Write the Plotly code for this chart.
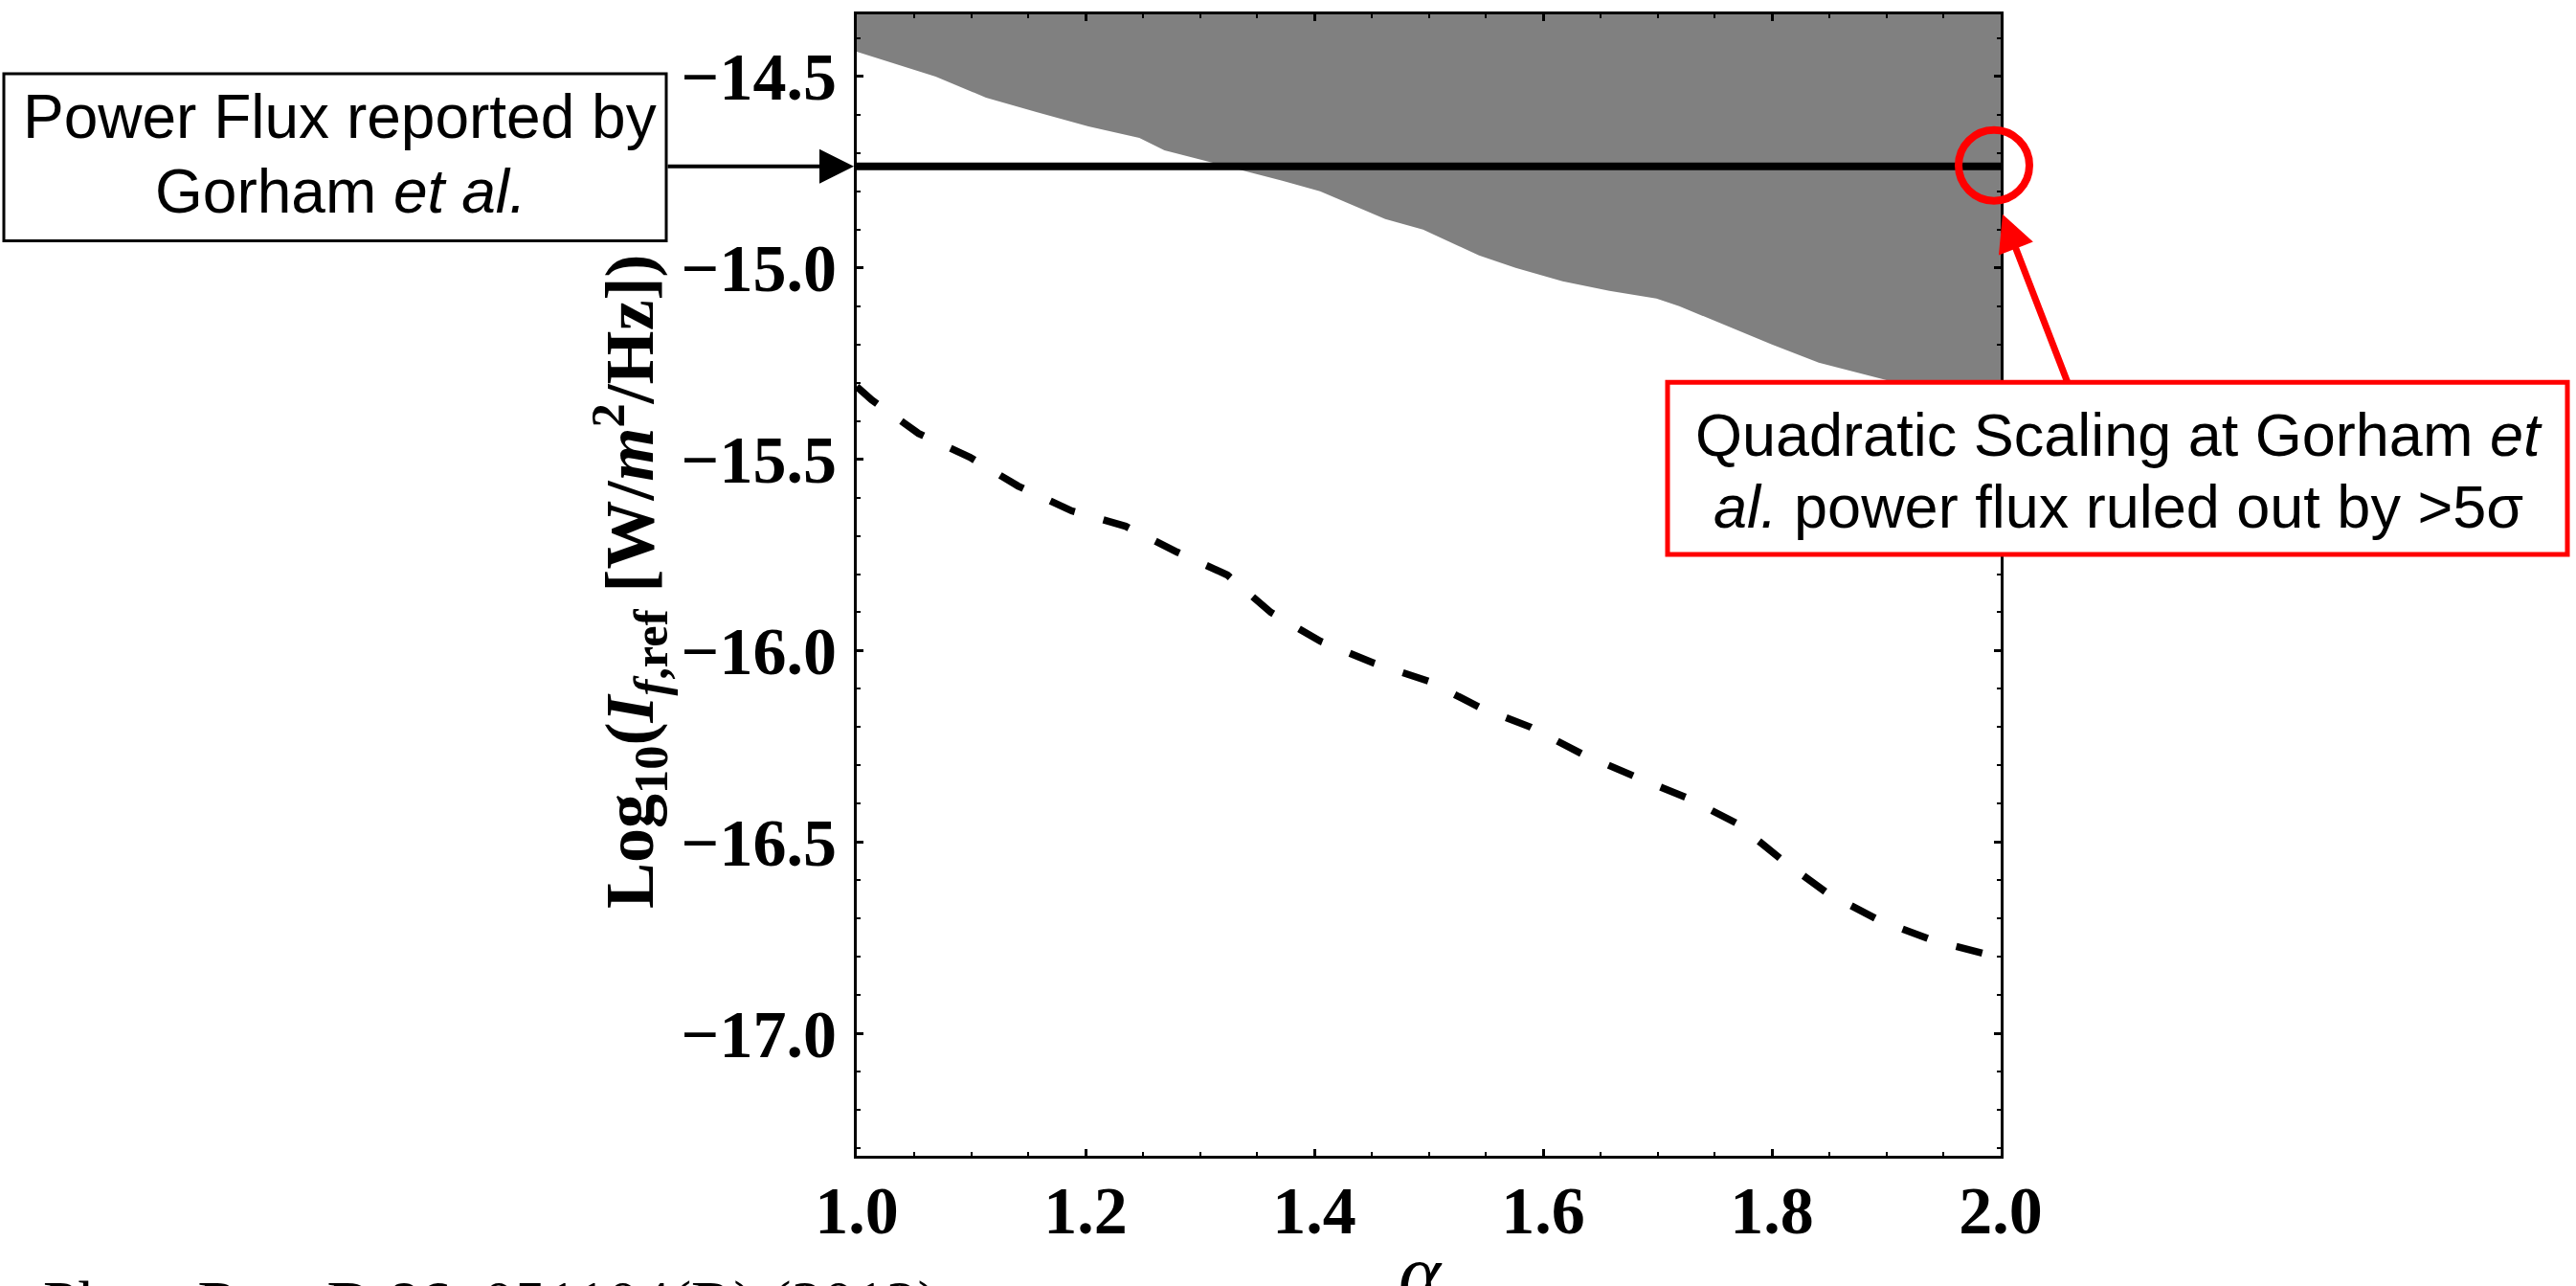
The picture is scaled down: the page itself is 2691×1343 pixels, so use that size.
import plotly.graph_objects as go

# Excluded region (upper boundary of the shaded area), alpha vs log10 flux
alpha_excl = [1.0, 1.069, 1.113, 1.157, 1.2025, 1.247, 1.269, 1.308, 1.372, 1.405,
              1.433, 1.462, 1.495, 1.544, 1.576, 1.617, 1.658, 1.699, 1.719, 1.760,
              1.800, 1.841, 1.882, 1.906, 2.0]
logI_excl = [-14.435, -14.50, -14.555, -14.593, -14.63, -14.66, -14.6925, -14.7225,
             -14.7725, -14.80, -14.835, -14.8725, -14.90, -14.9675, -15.00, -15.035,
             -15.06, -15.08, -15.10, -15.15, -15.20, -15.2475, -15.28, -15.2975, -15.32]

# Sensitivity curve (dashed)
alpha_sens = [1.0, 1.013, 1.054, 1.099, 1.141, 1.188, 1.235, 1.280, 1.324, 1.362,
              1.405, 1.452, 1.500, 1.544, 1.589, 1.634, 1.681, 1.726, 1.770, 1.809,
              1.849, 1.894, 1.941, 1.990, 2.0]
logI_sens = [-15.31, -15.345, -15.4325, -15.495, -15.57, -15.635, -15.675, -15.7425,
             -15.8025, -15.90, -15.975, -16.0325, -16.08, -16.1475, -16.20, -16.27,
             -16.33, -16.385, -16.4525, -16.5475, -16.635, -16.705, -16.7575, -16.795,
             -16.81]

# Power flux reported by Gorham et al.
gorham_flux = -14.735

alpha_range = [1.0, 2.0]
logI_range = [-17.32, -14.3375]

x_tickvals = [1.0, 1.2, 1.4, 1.6, 1.8, 2.0]
x_ticktext = ["1.0", "1.2", "1.4", "1.6", "1.8", "2.0"]
y_tickvals = [-14.5, -15.0, -15.5, -16.0, -16.5, -17.0]
y_ticktext = ["\u221214.5", "\u221215.0", "\u221215.5", "\u221216.0", "\u221216.5", "\u221217.0"]

W, H = 2691, 1343
ML, MR, MT, MB = 895, 601, 13, 136
PW, PH = W - ML - MR, H - MT - MB


def px(x):
    """canvas pixel column -> paper x"""
    return (x - ML) / PW


def py(y):
    """canvas pixel row -> paper y"""
    return (H - MB - y) / PH


SERIF = "Liberation Serif"
SANS = "Liberation Sans"

fig = go.Figure()

# shaded excluded region: boundary closed along the top of the frame
top = logI_range[1] + 0.2
fig.add_trace(go.Scatter(
    x=alpha_excl + [alpha_range[1], alpha_range[0]],
    y=logI_excl + [top, top],
    fill="toself", fillcolor="#808080",
    mode="lines", line=dict(width=0, color="#808080"),
    hoverinfo="skip", showlegend=False,
))

# reported power flux
fig.add_trace(go.Scatter(
    x=alpha_range, y=[gorham_flux, gorham_flux],
    mode="lines", line=dict(color="black", width=8),
    showlegend=False,
))

# sensitivity curve
fig.add_trace(go.Scatter(
    x=alpha_sens, y=logI_sens,
    mode="lines", line=dict(color="black", width=7.5, dash="28px,31px"),
    showlegend=False,
))

axis_common = dict(
    showline=True, linecolor="black", linewidth=3, mirror="ticks",
    ticks="inside", ticklen=7, tickwidth=3, tickcolor="black",
    showgrid=False, zeroline=False,
    tickfont=dict(family=SERIF, size=70, color="black", weight="bold"),
)

fig.update_xaxes(
    range=alpha_range, tickmode="array", tickvals=x_tickvals, ticktext=x_ticktext,
    minor=dict(dtick=0.05, tick0=1.0, ticks="inside", ticklen=4, tickwidth=2,
               tickcolor="black", showgrid=False),
    ticklabelstandoff=-6,
    **axis_common,
)
fig.update_yaxes(
    range=logI_range, tickmode="array", tickvals=y_tickvals, ticktext=y_ticktext,
    minor=dict(dtick=0.1, tick0=-14.5, ticks="inside", ticklen=4, tickwidth=2,
               tickcolor="black", showgrid=False),
    ticklabelstandoff=4,
    **axis_common,
)

shapes = [
    # label box for the reported flux
    dict(type="rect", xref="paper", yref="paper",
         x0=px(4), x1=px(696), y0=py(250), y1=py(75),
         line=dict(color="black", width=3), fillcolor="white", layer="above"),
    # label box for the quadratic-scaling statement
    dict(type="rect", xref="paper", yref="paper",
         x0=px(1742), x1=px(2682), y0=py(578), y1=py(398),
         line=dict(color="#FF0000", width=5), fillcolor="white", layer="above"),
    # highlight ring at the end of the reported-flux line
    dict(type="circle", xref="paper", yref="paper",
         x0=px(2046), x1=px(2120), y0=py(208), y1=py(134),
         line=dict(color="#FF0000", width=8), layer="above"),
]

annotations = [
    # y-axis title
    dict(xref="paper", yref="paper", x=px(657), y=py(606),
         text="Log<sub>10</sub>(<i>I</i><sub><i>f</i>,ref</sub> [W/<i>m</i><sup>2</sup>/Hz])",
         textangle=-90, showarrow=False, xanchor="center", yanchor="middle",
         font=dict(family=SERIF, size=72, color="black", weight="bold")),
    # x-axis title
    dict(xref="paper", yref="paper", x=px(1484), y=py(1330),
         text="<i>\u03b1</i>", showarrow=False, xanchor="center", yanchor="middle",
         font=dict(family=SERIF, size=84, color="black")),
    # citation
    dict(xref="paper", yref="paper", x=px(43), y=py(1361),
         text="Phys. Rev. D <b>86</b>, 051104(R) (2012)", showarrow=False,
         xanchor="left", yanchor="middle",
         font=dict(family=SERIF, size=66, color="black")),
    # black box text
    dict(xref="paper", yref="paper", x=px(355), y=py(120),
         text="Power Flux reported by", showarrow=False,
         xanchor="center", yanchor="middle",
         font=dict(family=SANS, size=64, color="black")),
    dict(xref="paper", yref="paper", x=px(356), y=py(198.5),
         text="Gorham <i>et al.</i>", showarrow=False,
         xanchor="center", yanchor="middle",
         font=dict(family=SANS, size=64, color="black")),
    # red box text
    dict(xref="paper", yref="paper", x=px(2213), y=py(453),
         text="Quadratic Scaling at Gorham <i>et</i>", showarrow=False,
         xanchor="center", yanchor="middle",
         font=dict(family=SANS, size=63, color="black")),
    dict(xref="paper", yref="paper", x=px(2213), y=py(528),
         text="<i>al.</i> power flux ruled out by >5\u03c3", showarrow=False,
         xanchor="center", yanchor="middle",
         font=dict(family=SANS, size=63, color="black")),
    # arrow from black box to the axis
    dict(xref="paper", yref="paper", x=px(892), y=py(172),
         ax=696 - 892, ay=0, text="", showarrow=True,
         arrowhead=2, arrowsize=1.8, arrowwidth=4, arrowcolor="black", standoff=0),
    # arrow from red box to the ring
    dict(xref="paper", yref="paper", x=px(2092), y=py(222),
         ax=2160 - 2092, ay=398 - 222, text="", showarrow=True,
         arrowhead=2, arrowsize=1.1, arrowwidth=7, arrowcolor="#FF0000", standoff=0),
]

fig.update_layout(
    width=W, height=H,
    margin=dict(l=ML, r=MR, t=MT, b=MB, pad=0),
    paper_bgcolor="white", plot_bgcolor="white",
    showlegend=False,
    shapes=shapes, annotations=annotations,
)

fig.write_html("out.html")
